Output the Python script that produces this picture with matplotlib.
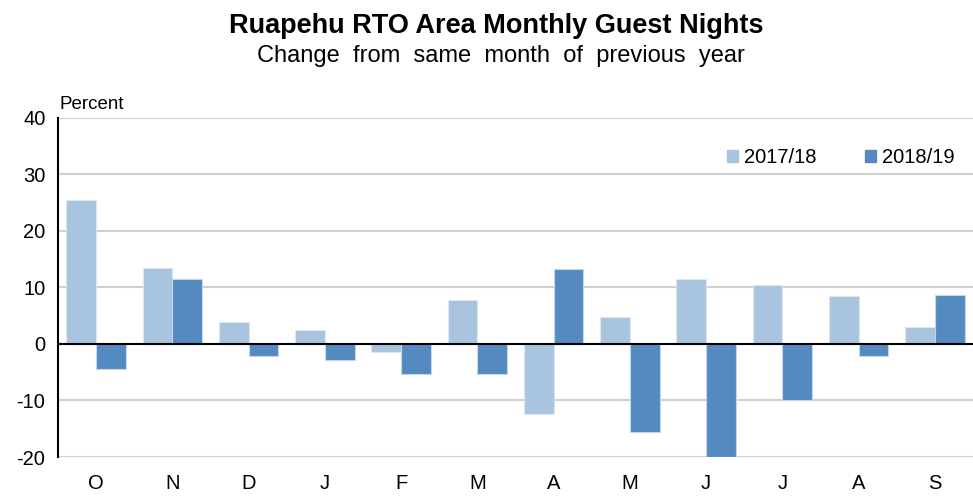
import numpy as np
import matplotlib
matplotlib.use("Agg")
import matplotlib.pyplot as plt
from matplotlib.patches import Patch

plt.rcParams['font.family'] = ['Liberation Sans', 'DejaVu Sans']
plt.rcParams['axes.unicode_minus'] = False

months = ["O", "N", "D", "J", "F", "M", "A", "M", "J", "J", "A", "S"]
series_1718 = [25.4, 13.4, 3.8, 2.4, -1.5, 7.7, -12.4, 4.8, 11.5, 10.5, 8.4, 3.0]
series_1819 = [-4.4, 11.4, -2.2, -2.8, -5.3, -5.3, 13.3, -15.6, -20.0, -10.0, -2.2, 8.7]

LIGHT = "#a9c4de"
DARK = "#558ac0"

fig = plt.figure(figsize=(9.73, 4.96), dpi=100)
ax = fig.add_axes([0.0596, 0.0786, 0.9404, 0.684])

x = np.arange(len(months))
w = 0.39
ax.bar(x - w / 2, series_1718, w, color=LIGHT, edgecolor="#dce7f2", linewidth=0.8, zorder=3)
ax.bar(x + w / 2, series_1819, w, color=DARK, edgecolor="#c4d6ea", linewidth=0.8, zorder=3)

ax.set_xlim(-0.5, len(months) - 0.5)
ax.set_ylim(-20, 40)
ax.set_yticks(range(-20, 41, 10))
ax.set_xticks(x)
ax.set_xticklabels(months)
ax.tick_params(axis="both", length=0, labelsize=14.5)
ax.tick_params(axis="x", pad=12)
ax.tick_params(axis="y", pad=9)

ax.grid(axis="y", color="#d0d0d0", linewidth=1.5, zorder=0)
ax.axhline(0, color="black", linewidth=1.5, zorder=4)
for s in ["top", "right", "bottom"]:
    ax.spines[s].set_visible(False)
ax.spines["left"].set_linewidth(1.5)

ax.text(0.002, 1.015, "Percent", transform=ax.transAxes, fontsize=13.5, ha="left", va="bottom")

handles = [Patch(color=LIGHT, label="2017/18"), Patch(color=DARK, label="2018/19")]
ax.legend(handles=handles, loc="upper right", bbox_to_anchor=(1.0, 0.965), ncol=2,
          frameon=False, fontsize=14.5, handlelength=0.55, handleheight=0.55,
          handletextpad=0.3, columnspacing=2.4)

fig.text(0.51, 0.948, "Ruapehu RTO Area Monthly Guest Nights", ha="center", va="center",
         fontsize=19.5, fontweight="bold")
fig.text(0.515, 0.888, "Change  from  same  month  of  previous  year", ha="center", va="center",
         fontsize=17)

fig.savefig("out.png", dpi=100)
